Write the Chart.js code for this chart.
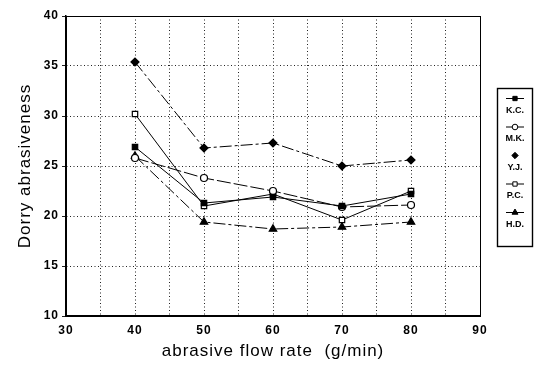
<!DOCTYPE html>
<html><head><meta charset="utf-8">
<script src="https://cdn.jsdelivr.net/npm/chart.js@4/dist/chart.umd.min.js"></script>
<style>html,body{margin:0;padding:0;background:#fff}#wrap{width:539px;height:370px}</style>
</head><body><div id="wrap"><canvas id="c" width="539" height="370"></canvas></div>
<script>
const flowRates = [40, 50, 60, 70, 80];
const seriesNames = ['K.C.', 'M.K.', 'Y.J.', 'P.C.', 'H.D.'];
const kc = [26.9, 21.3, 21.9, 21.0, 22.2];
const mk = [25.8, 23.8, 22.5, 20.9, 21.1];
const yj = [35.4, 26.8, 27.3, 25.0, 25.6];
const pc = [30.2, 21.0, 22.2, 19.6, 22.5];
const hd = [26.0, 19.4, 18.7, 18.9, 19.4];
const xTicks = [30, 40, 50, 60, 70, 80, 90];
const yTicks = [10, 15, 20, 25, 30, 35, 40];

const styles = [
  {pointStyle:'rect', fill:'#000', dash:[], line:true, r:3.8},
  {pointStyle:'circle', fill:'#fff', dash:[14,3], line:true, r:3.5},
  {pointStyle:'rectRot', fill:'#000', dash:[12,3,3,3], line:false, r:4},
  {pointStyle:'rect', fill:'#fff', dash:[], line:true, r:3.8},
  {pointStyle:'triangle', fill:'#000', dash:[12,3,3,3], line:true, r:4.3}
];
const allData = [kc, mk, yj, pc, hd];
const datasets = allData.map((vals, i) => ({
  label: seriesNames[i],
  data: vals.map((v, j) => ({x: flowRates[j], y: v})),
  borderColor: '#000', borderWidth: 1, borderDash: styles[i].dash,
  pointStyle: styles[i].pointStyle, pointRadius: styles[i].r,
  pointBackgroundColor: styles[i].fill, pointBorderColor: '#000', pointBorderWidth: 1.2,
  showLine: true, tension: 0
}));

const FONT = '"Liberation Sans", Arial, sans-serif';

const frame = {
  id: 'frame',
  beforeDraw(chart) { chart.ctx.letterSpacing = '1px'; },
  beforeDatasetsDraw(chart) { chart.ctx.letterSpacing = '0px'; },
  afterDraw(chart) {
    const {ctx, chartArea: a} = chart;
    ctx.save();
    ctx.letterSpacing = '0px';
    ctx.strokeStyle = '#000'; ctx.lineWidth = 1;
    ctx.strokeRect(Math.round(a.left)+0.5, Math.round(a.top)+0.5, Math.round(a.right - a.left), Math.round(a.bottom - a.top));
    // legend
    const bx = 497.5, by = 88.5, bw = 35, bh = 158;
    ctx.lineWidth = 1.4;
    ctx.strokeRect(bx, by, bw, bh);
    ctx.font = 'bold 9px ' + FONT;
    ctx.textAlign = 'center'; ctx.textBaseline = 'middle';
    const cx = bx + bw / 2;
    seriesNames.forEach((n, i) => {
      const my = by + 10 + i * 28.5;
      const ty = my + 12;
      const s = styles[i];
      ctx.setLineDash([]);
      ctx.strokeStyle = '#000';
      if (s.line) {
        ctx.lineWidth = 1;
        ctx.beginPath(); ctx.moveTo(cx - 9, my); ctx.lineTo(cx + 9, my); ctx.stroke();
      }
      ctx.fillStyle = s.fill; ctx.lineWidth = 1;
      Chart.helpers.drawPoint(ctx, {pointStyle: s.pointStyle, radius: s.r * 0.8, rotation: 0, borderWidth: 1}, cx, my);
      ctx.fillStyle = '#000';
      ctx.fillText(n, cx, ty);
    });
    ctx.restore();
  }
};

new Chart(document.getElementById('c'), {
  type: 'scatter',
  data: {datasets},
  plugins: [frame],
  options: {
    responsive: false, animation: false,
    layout: {padding: {top: 16, right: 59, bottom: 0, left: 0}},
    plugins: {legend: {display: false}, tooltip: {enabled: false}},
    scales: {
      x: {
        type: 'linear', min: 30, max: 90,
        afterFit(s) { s.height = 54; },
        afterBuildTicks(s) { s.ticks = [30,35,40,45,50,55,60,65,70,75,80,85,90].map(v => ({value: v})); },
        ticks: {
          autoSkip: false, maxRotation: 0, padding: 7,
          color: '#000', font: {family: FONT, size: 12, weight: 'bold'},
          callback: v => xTicks.includes(v) ? String(v) : ''
        },
        grid: {color: '#222', lineWidth: 1, drawTicks: false},
        border: {display: true, color: '#000', width: 1.5, dash: [1, 2.5]},
        title: {display: true, text: 'abrasive flow rate  (g/min)', color: '#000',
          font: {family: FONT, size: 17}, padding: {top: 0, bottom: 8}}
      },
      y: {
        min: 10, max: 40,
        afterFit(s) { s.width = 66; },
        afterBuildTicks(s) { s.ticks = yTicks.map(v => ({value: v})); },
        ticks: {
          color: '#000', padding: 3,
          font: {family: FONT, size: 12, weight: 'bold'}
        },
        grid: {color: '#222', lineWidth: 1, tickLength: 4},
        border: {display: true, color: '#000', width: 1.5, dash: [1, 2.5]},
        title: {display: true, text: 'Dorry abrasiveness', color: '#000',
          font: {family: FONT, size: 17}, padding: {top: 15, bottom: 0}}
      }
    }
  }
});
</script></body></html>
